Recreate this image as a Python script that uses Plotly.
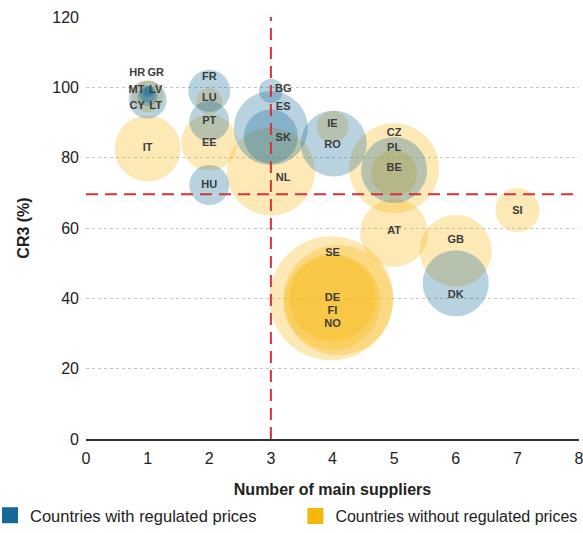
import plotly.graph_objects as go

# Countries with regulated prices
reg_countries = ["LT", "LV", "GR", "CY", "MT", "FR", "PT", "HU", "BG", "ES", "SK", "RO", "PL", "DK"]
reg_suppliers = [1, 1, 1, 1.02, 1, 2, 2, 2, 3, 3, 3, 4.02, 5, 6]
reg_cr3 = [96.5, 97.5, 98.0, 99.0, 98.5, 99.0, 90.4, 72.2, 99.0, 88.4, 86.0, 84.0, 76.5, 44.3]
reg_market_size = [14.4, 4.0, 2.6, 1.0, 1.0, 17.6, 16.0, 16.0, 5.8, 54.8, 29.2, 43.6, 43.6, 43.6]

# Countries without regulated prices
free_countries = ["HR", "IT", "LU", "EE", "NL", "IE", "CZ", "BE", "AT", "GB", "SI", "SE", "DE", "FI", "NO"]
free_suppliers = [1, 1, 2, 2, 3, 4, 5, 5, 5, 6, 7, 3.98, 4.09, 4.0, 4.0]
free_cr3 = [97.5, 82.6, 96.0, 84.3, 76.0, 88.7, 77.0, 75.6, 58.6, 53.5, 65.1, 40.0, 39.5, 39.0, 40.0]
free_market_size = [10.2, 43.6, 6.8, 31.4, 77.4, 10.2, 81.0, 21.2, 46.2, 51.8, 19.4, 153.8, 121.0, 92.0, 74.0]

# Label positions
labels = ["HR", "GR", "MT", "LV", "CY", "LT", "IT", "FR", "LU", "PT", "EE", "HU",
          "BG", "ES", "SK", "NL", "IE", "RO", "CZ", "PL", "BE", "AT", "GB", "DK", "SI",
          "SE", "DE", "FI", "NO"]
label_x = [0.83, 1.13, 0.82, 1.13, 0.83, 1.13, 1.0, 2.0, 2.0, 2.0, 2.0, 2.0,
           3.2, 3.2, 3.2, 3.2, 4.0, 4.0, 5.0, 5.0, 5.0, 5.0, 6.0, 6.0, 7.0,
           4.0, 4.0, 4.0, 4.0]
label_y = [103.9, 103.9, 99.2, 99.2, 94.6, 94.6, 82.6, 102.8, 96.8, 90.4, 84.2, 72.2,
           99.4, 94.4, 85.6, 74.2, 89.6, 83.6, 87.0, 82.7, 77.0, 59.1, 56.6, 40.9, 64.9,
           52.9, 40.1, 36.4, 32.7]

# Averages (reference lines)
avg_suppliers = 3
avg_cr3 = 69.6

BLUE = "rgb(20,105,152)"
YELLOW = "rgb(247,182,12)"
RED = "rgb(214,50,56)"

fig = go.Figure()

fig.add_trace(go.Scatter(
    x=free_suppliers, y=free_cr3, mode="markers", showlegend=False, hoverinfo="skip",
    marker=dict(size=free_market_size, sizemode="area", sizeref=0.02, color=YELLOW,
                opacity=0.3, line=dict(width=0)),
))
fig.add_trace(go.Scatter(
    x=reg_suppliers, y=reg_cr3, mode="markers", showlegend=False, hoverinfo="skip",
    marker=dict(size=reg_market_size, sizemode="area", sizeref=0.02, color=BLUE,
                opacity=0.3, line=dict(width=0)),
))

fig.add_trace(go.Scatter(
    x=label_x, y=label_y, mode="text", text=labels, showlegend=False, hoverinfo="skip",
    textfont=dict(family="Arial", size=11, color="#3c3c3c", weight="bold"),
))

# legend entries
fig.add_trace(go.Scatter(x=[None], y=[None], mode="markers", name="Countries with regulated prices",
                         legend="legend", marker=dict(symbol="square", size=20, color=BLUE)))
fig.add_trace(go.Scatter(x=[None], y=[None], mode="markers", name="Countries without regulated prices",
                         legend="legend2", marker=dict(symbol="square", size=20, color=YELLOW)))

# dashed reference lines
fig.add_shape(type="line", x0=avg_suppliers, x1=avg_suppliers, y0=0, y1=120, xref="x", yref="y",
              line=dict(color=RED, width=2, dash="12px,7px"), layer="above")
fig.add_shape(type="line", x0=0, x1=1, y0=avg_cr3, y1=avg_cr3, xref="paper", yref="y",
              line=dict(color=RED, width=2, dash="12px,7px"), layer="above")

legend_style = dict(orientation="h", xref="container", yref="container", y=-0.008,
                    xanchor="left", yanchor="bottom", itemwidth=30,
                    bgcolor="rgba(0,0,0,0)")
fig.update_layout(
    width=583, height=533,
    margin=dict(l=86, r=4, t=17, b=94, autoexpand=False),
    plot_bgcolor="white", paper_bgcolor="white",
    font=dict(family="Arial", size=16, color="#222"),
    legend=dict(x=0, indentation=-10, font=dict(size=16.5), **legend_style),
    legend2=dict(x=0.517, indentation=-6, font=dict(size=16), **legend_style),
)
fig.update_xaxes(range=[0, 8], tickvals=list(range(0, 9)), showgrid=False, zeroline=False,
                 showline=True, linecolor="#333", linewidth=1.5, ticks="", automargin=False,
                 ticklabelstandoff=4, ticklabeloverflow="allow",
                 title=dict(text="<b>Number of main suppliers</b>", font=dict(size=16), standoff=18))
fig.update_yaxes(range=[0, 120], tickvals=list(range(0, 121, 20)), showgrid=True,
                 gridcolor="#c4c4c4", griddash="dot", gridwidth=1, zeroline=False,
                 showline=False, ticks="", automargin=False, ticklabelstandoff=6,
                 title=dict(text="<b>CR3 (%)</b>", font=dict(size=16), standoff=18))

fig.write_html("out.html", config={"displayModeBar": False},
               post_script="document.body.style.margin='0';")
